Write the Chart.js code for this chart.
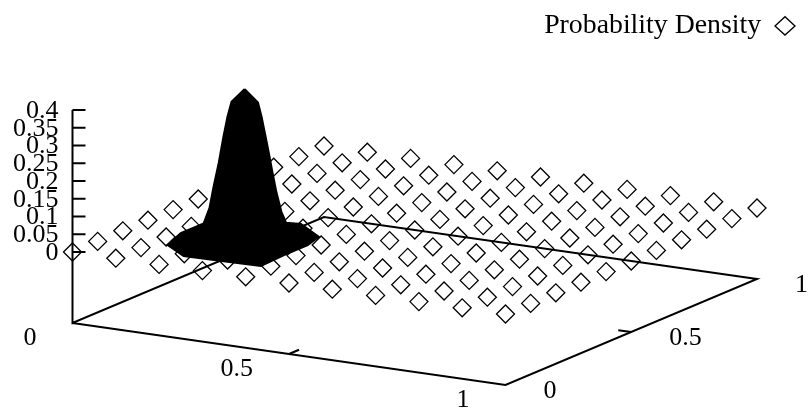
<!DOCTYPE html>
<html>
<head>
<meta charset="utf-8">
<title>Probability Density</title>
<script src="https://cdn.jsdelivr.net/npm/chart.js@4"></script>
<style>
  html, body { margin: 0; padding: 0; background: #fff; }
  canvas { display: block; }
</style>
</head>
<body>
<canvas id="grafico" width="812" height="417"></canvas>
<script>
const seriesName = 'Probability Density';

// coarse grid, flat at z = 0 wherever it can be seen
const gridX = [0, 0.1, 0.2, 0.3, 0.4, 0.5, 0.6, 0.7, 0.8, 0.9, 1];
const gridY = [0, 0.1, 0.2, 0.3, 0.4, 0.5, 0.6, 0.7, 0.8, 0.9, 1];
const gridZ = [
    [0, 0, 0, 0, 0, 0, 0, 0, 0, 0, 0],
    [0, 0, 0, 0, 0, 0, 0, 0, 0, 0, 0],
    [0, 0, 0, 0, 0, 0, 0, 0, 0, 0, 0],
    [0, 0, 0, 0, 0, 0, 0, 0, 0, 0, 0],
    [0, 0, 0, 0, 0, 0, 0, 0, 0, 0, 0],
    [0, 0, 0, 0, 0, 0, 0, 0, 0, 0, 0],
    [0, 0, 0, 0, 0, 0, 0, 0, 0, 0, 0],
    [0, 0, 0, 0, 0, 0, 0, 0, 0, 0, 0],
    [0, 0, 0, 0, 0, 0, 0, 0, 0, 0, 0],
    [0, 0, 0, 0, 0, 0, 0, 0, 0, 0, 0],
    [0, 0, 0, 0, 0, 0, 0, 0, 0, 0, 0]
];

// outline of the dense peak
const peakX = [0.252, 0.275, 0.281, 0.288, 0.294, 0.300, 0.307, 0.315, 0.248, 0.279, 0.362, 0.377, 0.377, 0.382, 0.307, 0.208, 0.135, 0.109, 0.109, 0.191, 0.198, 0.207, 0.215, 0.222, 0.229, 0.252];
const peakY = [0.251, 0.264, 0.268, 0.272, 0.276, 0.279, 0.283, 0.288, 0.422, 0.428, 0.356, 0.286, 0.192, 0.091, 0.088, 0.084, 0.145, 0.243, 0.334, 0.216, 0.220, 0.225, 0.230, 0.234, 0.238, 0.251];
const peakZ = [0.428, 0.390, 0.350, 0.294, 0.242, 0.192, 0.135, 0.083, 0, 0, 0, 0, 0, 0, 0, 0, 0, 0, 0, 0.093, 0.153, 0.220, 0.294, 0.350, 0.392, 0.428];

const zTicks = [0, 0.05, 0.1, 0.15, 0.2, 0.25, 0.3, 0.35, 0.4];
const zTickLabels = ['0', '0.05', '0.1', '0.15', '0.2', '0.25', '0.3', '0.35', '0.4'];
const xTicks = [0, 0.5, 1];
const xTickLabels = ['0', '0.5', '1'];
const yTicks = [0, 0.5, 1];
const yTickLabels = ['0', '0.5', '1'];

const zFloor = -0.2;
const zTop = 0.4;

// same view as the splot: x,y,z -> page units
const proyectar = (x, y, z) => ({
    x: 72.5 + 433 * x + 251.5 * y,
    y: 252 + 62 * x - 106 * y - 355 * z
});

const puntosGrid = [];
gridX.forEach((x, i) => {
    gridY.forEach((y, j) => {
        puntosGrid.push(proyectar(x, y, gridZ[i][j]));
    });
});

const puntosPico = peakX.map((x, i) => proyectar(x, peakY[i], peakZ[i]));

const borde = [
    proyectar(0, 0, zFloor),
    proyectar(1, 0, zFloor),
    proyectar(1, 1, zFloor),
    proyectar(0, 1, zFloor),
    proyectar(0, 0, zFloor),
    proyectar(0, 0, zTop)
];

// tick marks, null breaks the line between them
const marcas = [];
zTicks.forEach(z => {
    const p = proyectar(0, 0, z);
    marcas.push(p, { x: p.x + 13, y: p.y }, { x: null, y: null });
});
marcas.push(proyectar(0.5, 0, zFloor), proyectar(0.5, 0.04, zFloor), { x: null, y: null });
marcas.push(proyectar(1, 0.5, zFloor), proyectar(0.97, 0.5, zFloor));

const fuente = '26px "Liberation Serif"';

const etiquetas = {
    id: 'etiquetas',
    afterDatasetsDraw(chart) {
        const ctx = chart.ctx;
        const sx = chart.scales.x;
        const sy = chart.scales.y;
        ctx.save();
        ctx.font = fuente;
        ctx.fillStyle = '#000';
        ctx.textBaseline = 'middle';
        ctx.textAlign = 'right';
        zTicks.forEach((z, i) => {
            const p = proyectar(0, 0, z);
            ctx.fillText(zTickLabels[i], sx.getPixelForValue(p.x) - 14, sy.getPixelForValue(p.y) + 1);
        });
        xTicks.forEach((x, i) => {
            const p = proyectar(x, 0, zFloor);
            ctx.fillText(xTickLabels[i], sx.getPixelForValue(p.x) - 36, sy.getPixelForValue(p.y) + 15);
        });
        ctx.textAlign = 'left';
        yTicks.forEach((y, i) => {
            const p = proyectar(1, y, zFloor);
            ctx.fillText(yTickLabels[i], sx.getPixelForValue(p.x) + 38, sy.getPixelForValue(p.y) + 6);
        });
        ctx.restore();
    }
};

const grafico = new Chart(document.getElementById('grafico').getContext('2d'), {
    type: 'scatter',
    data: {
        datasets: [
            {
                label: seriesName,
                data: puntosGrid,
                pointStyle: 'rectRot',
                pointRadius: 9,
                borderColor: '#000',
                backgroundColor: 'rgba(0,0,0,0)',
                borderWidth: 1.3,
                order: 2
            },
            {
                label: 'pico',
                data: puntosPico,
                showLine: true,
                fill: 'shape',
                tension: 0,
                pointRadius: 0,
                borderColor: '#000',
                backgroundColor: '#000',
                borderWidth: 2,
                order: 1
            },
            {
                label: 'borde',
                data: borde,
                showLine: true,
                tension: 0,
                pointRadius: 0,
                borderColor: '#000',
                borderWidth: 2,
                order: 3
            },
            {
                label: 'marcas',
                data: marcas,
                showLine: true,
                spanGaps: false,
                tension: 0,
                pointRadius: 0,
                borderColor: '#000',
                borderWidth: 2,
                order: 3
            }
        ]
    },
    options: {
        responsive: false,
        animation: false,
        events: [],
        layout: { autoPadding: false, padding: { right: 5 } },
        scales: {
            x: { type: 'linear', display: false, min: 0, max: 807 },
            y: { type: 'linear', display: false, min: 0, max: 417, reverse: true }
        },
        plugins: {
            tooltip: { enabled: false },
            legend: {
                position: 'top',
                align: 'start',
                rtl: true,
                textDirection: 'ltr',
                labels: {
                    usePointStyle: true,
                    pointStyleWidth: 20,
                    boxHeight: 13,
                    color: '#000',
                    padding: 12,
                    font: { family: '"Liberation Serif"', size: 27.8 },
                    filter: item => item.text === seriesName
                }
            }
        }
    },
    plugins: [etiquetas]
});

// the legend takes the top strip, start the y scale where the plot area starts
grafico.options.scales.y.min = grafico.chartArea.top;
grafico.update();
</script>
</body>
</html>
